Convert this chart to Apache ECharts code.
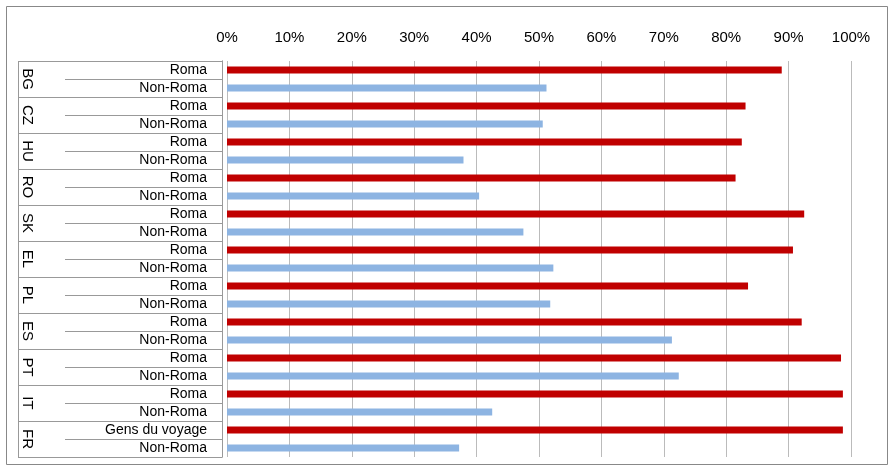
<!DOCTYPE html><html><head><meta charset="utf-8"><script src="https://cdn.jsdelivr.net/npm/echarts@6/dist/echarts.min.js"></script></head><body style="margin:0"><div id="c" style="width:895px;height:471px"></div><script>
const countries=['BG','CZ','HU','RO','SK','EL','PL','ES','PT','IT','FR'];
const groupLabels=['Roma','Non-Roma'];
const frRomaLabel='Gens du voyage';
const romaValues=[88.9,83.1,82.5,81.5,92.5,90.7,83.5,92.1,98.4,98.7,98.7];
const nonRomaValues=[51.2,50.6,37.9,40.4,47.5,52.3,51.8,71.3,72.4,42.5,37.2];
const xTicks=[0,10,20,30,40,50,60,70,80,90,100];
const rows=[],data=[];
countries.forEach((c,i)=>{
 rows.push(c==='FR'?frRomaLabel:groupLabels[0]);
 data.push({value:romaValues[i],itemStyle:{color:'#c00000'}});
 rows.push(groupLabels[1]);
 data.push({value:nonRomaValues[i],itemStyle:{color:'#8db4e2'}});
});
const ch=echarts.init(document.getElementById('c'));
ch.setOption({
 animation:false,
 grid:{left:227,right:44,top:61,bottom:14},
 xAxis:{type:'value',position:'top',min:0,max:100,interval:10,
  axisLabel:{formatter:v=>v+'%',fontFamily:'Liberation Sans',fontSize:15,color:'#000',margin:16},
  axisLine:{show:false},axisTick:{show:false},splitLine:{lineStyle:{color:'#bbb'}}},
 yAxis:[{type:'category',data:rows,inverse:true,offset:5,
  axisLine:{show:true,onZero:false,lineStyle:{color:'#999'}},
  axisTick:{show:true,length:157,interval:0,lineStyle:{color:'#999'}},
  axisLabel:{interval:0,fontFamily:'Liberation Sans',fontSize:14,color:'#000',margin:15,verticalAlign:'middle',padding:[0,0,4,0]}},
  {type:'category',data:countries,inverse:true,position:'left',offset:5,
  axisLine:{show:true,onZero:false,lineStyle:{color:'#999'}},axisTick:{show:true,length:204,interval:0,lineStyle:{color:'#999'}},
  axisLabel:{interval:0,rotate:-90,margin:187,fontFamily:'Liberation Sans',fontSize:15,color:'#000'}}],
 series:[{type:'bar',yAxisIndex:0,data:data,barWidth:7}],
 graphic:[
  {type:'rect',shape:{x:6.5,y:6.5,width:881,height:458},style:{fill:null,stroke:'#888',lineWidth:1}},
  {type:'line',shape:{x1:18.5,y1:61,x2:18.5,y2:457},style:{stroke:'#999',lineWidth:1}}
 ]
});
</script></body></html>
